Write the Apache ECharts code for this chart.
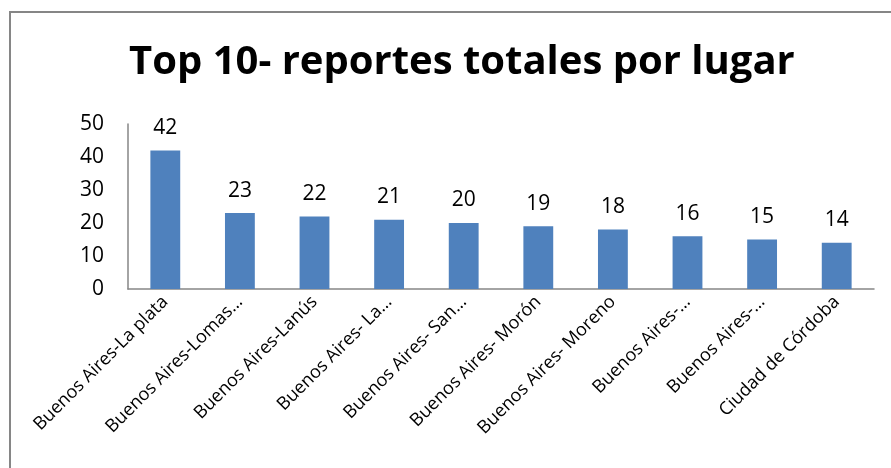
<!DOCTYPE html>
<html>
<head>
<meta charset="utf-8">
<script src="https://cdn.jsdelivr.net/npm/echarts@6/dist/echarts.min.js"></script>
<style>html,body{margin:0;padding:0;background:#fff;}#c{width:891px;height:468px;}</style>
</head>
<body>
<div id="c"></div>
<script>
const titleText = 'Top 10- reportes totales por lugar';
const categories = [
  'Buenos Aires-La plata',
  'Buenos Aires-Lomas…',
  'Buenos Aires-Lanús',
  'Buenos Aires- La…',
  'Buenos Aires- San…',
  'Buenos Aires- Morón',
  'Buenos Aires- Moreno',
  'Buenos Aires-…',
  'Buenos Aires-…',
  'Ciudad de Córdoba'
];
const values = [42, 23, 22, 21, 20, 19, 18, 16, 15, 14];
const yTicks = [0, 10, 20, 30, 40, 50];

const chart = echarts.init(document.getElementById('c'), null, {renderer: 'canvas'});
const font = 'Open Sans';
chart.setOption({
  animation: false,
  backgroundColor: '#ffffff',
  graphic: [{
    type: 'rect',
    shape: {x: 10, y: 12, width: 900, height: 480},
    style: {fill: 'none', stroke: '#868686', lineWidth: 2},
    silent: true
  }],
  title: {
    text: titleText,
    left: 124,
    top: 38,
    textStyle: {fontFamily: font, fontWeight: 'bold', fontSize: 40, color: '#000'}
  },
  grid: {left: 128, right: 17, top: 124, bottom: 179, containLabel: false},
  xAxis: {
    type: 'category',
    data: categories,
    axisLine: {lineStyle: {color: '#868686', width: 1.5}},
    axisTick: {show: false},
    axisLabel: {
      rotate: 45, interval: 0, margin: 10,
      fontFamily: font, fontSize: 18, color: '#000'
    }
  },
  yAxis: {
    type: 'value',
    min: 0, max: 50, interval: 10,
    axisLine: {show: true, lineStyle: {color: '#868686', width: 1.5}},
    axisTick: {show: false},
    splitLine: {show: false},
    axisLabel: {
      margin: 24,
      fontFamily: font, fontSize: 21, color: '#000',
      formatter: v => yTicks.includes(v) ? String(v) : ''
    }
  },
  series: [{
    type: 'bar',
    data: values,
    barWidth: '40%',
    itemStyle: {color: '#4F81BD'},
    label: {
      show: true, position: 'top', distance: 12,
      fontFamily: font, fontSize: 21, color: '#000'
    }
  }]
});
</script>
</body>
</html>
